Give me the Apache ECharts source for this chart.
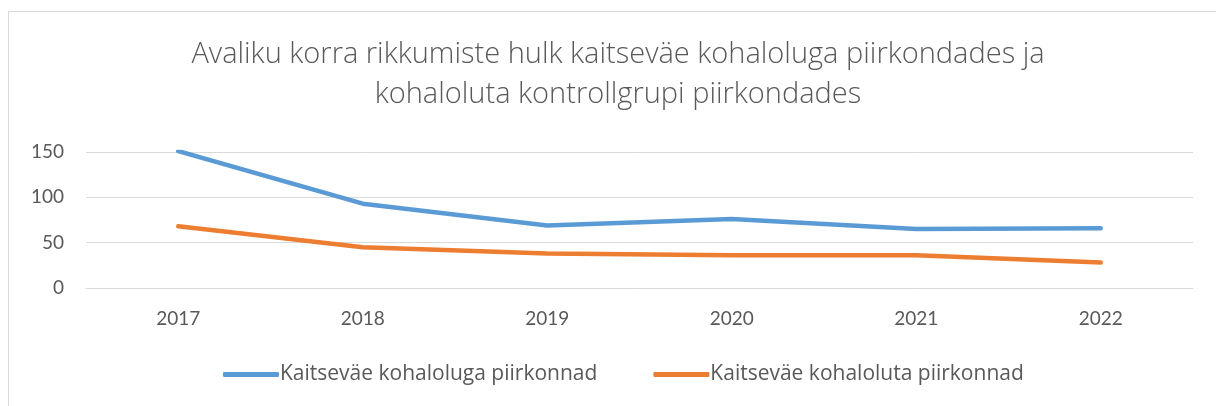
<!DOCTYPE html>
<html>
<head>
<meta charset="utf-8">
<script src="https://cdn.jsdelivr.net/npm/echarts@6/dist/echarts.min.js"></script>
<style>html,body{margin:0;padding:0;background:#fff}#c{width:1216px;height:406px}</style>
</head>
<body>
<div id="c"></div>
<script>
const categories = ['2017', '2018', '2019', '2020', '2021', '2022'];
const seriesNames = ['Kaitseväe kohaloluga piirkonnad', 'Kaitseväe kohaloluta piirkonnad'];
const withPresence = [151, 93, 69, 76, 65, 66];
const withoutPresence = [68, 45, 38, 36, 36, 28];
const yTicks = [0, 50, 100, 150];
const titleText = 'Avaliku korra rikkumiste hulk kaitseväe kohaloluga piirkondades ja\nkohaloluta kontrollgrupi piirkondades';

const FONT = 'Lato';
const WIDE = 'Open Sans';
const chart = echarts.init(document.getElementById('c'), null, {renderer: 'canvas'});
chart.setOption({
  animation: false,
  backgroundColor: '#fff',
  graphic: [{
    type: 'rect', shape: {x: 8.5, y: 11.5, width: 1220, height: 400},
    style: {fill: 'none', stroke: '#d9d9d9', lineWidth: 1}, silent: true
  }],
  title: {
    text: titleText,
    left: 613, textAlign: 'center', top: 30,
    textStyle: {fontFamily: WIDE, fontWeight: 300, fontSize: 29, color: '#595959', lineHeight: 40}
  },
  legend: {
    data: seriesNames,
    left: 218, top: 359,
    icon: 'roundRect', itemWidth: 56, itemHeight: 5, itemGap: 56,
    textStyle: {fontFamily: WIDE, fontSize: 21, color: '#595959', padding: [0, 0, 0, -4]}
  },
  grid: {left: 86, right: 23, top: 152, bottom: 118, containLabel: false},
  xAxis: {
    type: 'category', data: categories, boundaryGap: true,
    axisLine: {show: true, lineStyle: {color: '#d9d9d9', width: 1}},
    axisTick: {show: false},
    axisLabel: {fontFamily: FONT, fontSize: 19, color: '#595959', margin: 21}
  },
  yAxis: {
    type: 'value', min: 0, max: 150, interval: 50,
    axisLine: {show: false}, axisTick: {show: false},
    splitLine: {lineStyle: {color: '#d9d9d9', width: 1}},
    axisLabel: {fontFamily: FONT, fontSize: 19, color: '#595959', margin: 22,
      formatter: v => yTicks.includes(v) ? String(v) : ''}
  },
  series: [
    {name: seriesNames[0], type: 'line', data: withPresence, symbol: 'none',
      itemStyle: {color: '#5B9BD5'}, lineStyle: {color: '#5B9BD5', width: 4.5, cap: 'round', join: 'round'}},
    {name: seriesNames[1], type: 'line', data: withoutPresence, symbol: 'none',
      itemStyle: {color: '#ED7D31'}, lineStyle: {color: '#ED7D31', width: 4.5, cap: 'round', join: 'round'}}
  ]
});
</script>
</body>
</html>
